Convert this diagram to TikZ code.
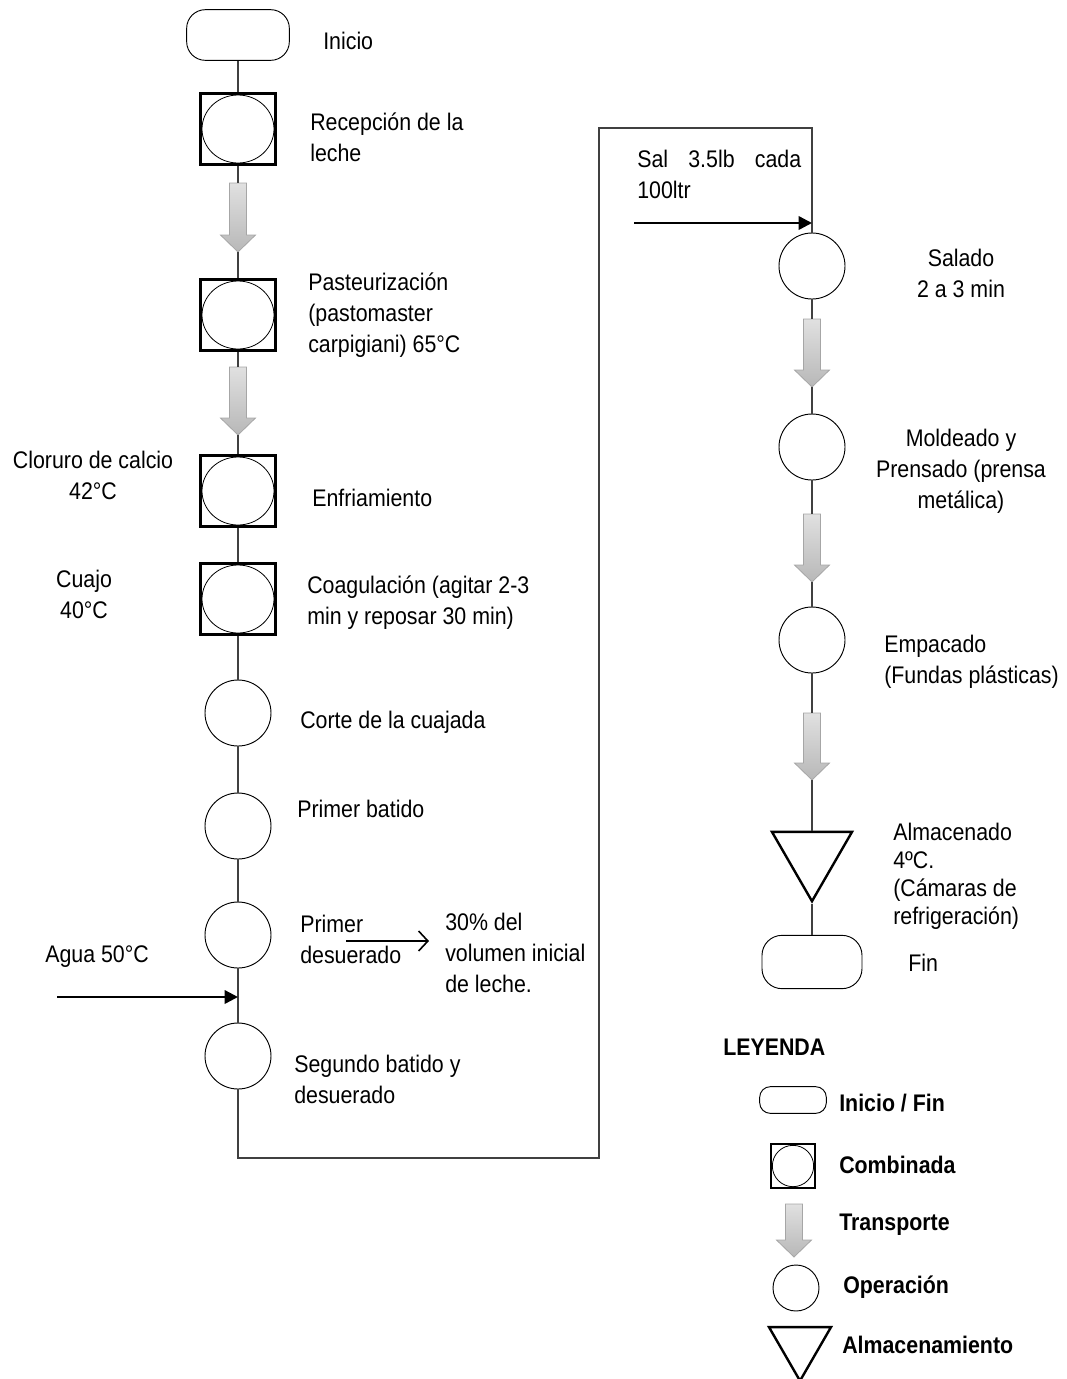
\documentclass[tikz,border=0pt]{standalone}
\usepackage{fontspec}
\setmainfont{Liberation Sans}[FakeStretch=0.89]
\usetikzlibrary{arrows.meta,shapes.geometric}

\tikzset{
  linea/.style={draw=black!75, line width=0.9pt},
  flecha/.style={draw=black, line width=1.8pt, -{Triangle[length=10pt,width=10pt]}},
  salida/.style={draw=black, line width=1pt, -{Straight Barb[length=7pt,width=15pt,line width=1.2pt]}},
  terminal/.style 2 args={draw=black, line width=0.7pt, fill=white, rounded corners=#2,
    minimum width=#1, inner sep=0},
  combinada/.style 2 args={draw=black, line width=2.2pt, fill=white, inner sep=0,
    minimum width=#1, minimum height=#2,
    path picture={\draw[line width=0.6pt] (path picture bounding box.center)
      ellipse [x radius=#1/2-1pt, y radius=#2/2-1pt];}},
  operacion/.style={draw=black, line width=0.7pt, fill=white, circle, inner sep=0,
    minimum size=#1},
  almacen/.style={draw=black, line width=1.8pt, fill=white, regular polygon,
    regular polygon sides=3, shape border rotate=180, inner sep=0, minimum size=#1},
  etiqueta/.style={inner sep=0, anchor=west, align=left},
  centrada/.style={inner sep=0, anchor=center, align=center},
  pics/transporte/.style={code={
    \path[top color=black!12, bottom color=black!28, draw=black!35, line width=0.6pt]
      (-8.5,0) -- (8.5,0) -- (8.5,#1-17) -- (17.5,#1-17) -- (0,#1)
      -- (-17.5,#1-17) -- (-8.5,#1-17) -- cycle;
    \coordinate (-top) at (0,0);
    \coordinate (-tip) at (0,#1);
  }}
}

\begin{document}
\begin{tikzpicture}[x=0.75pt, y=-0.75pt, font=\fontsize{18pt}{23.25pt}\selectfont]
  \useasboundingbox (0,0) rectangle (1067,1379);

  % columna izquierda
  \node[terminal={77pt}{14pt}, minimum height=38pt] (ini) at (238,35) {};
  \node[etiqueta] (tini) at (323,41) {Inicio};
  \node[combinada={56pt}{53pt}] (rec) at (238,129) {};
  \node[etiqueta] (trec) at (310,137) {Recepción de la\\leche};
  \pic (t1) at (238,183) {transporte=69};
  \node[combinada={56pt}{53pt}] (pas) at (238,315) {};
  \node[etiqueta] (tpas) at (308,315) {Pasteurización\\(pastomaster\\carpigiani) 65°C};
  \pic (t2) at (238,367) {transporte=68};
  \node[combinada={56pt}{53pt}] (enf) at (238,491) {};
  \node[etiqueta] (tenf) at (312,498) {Enfriamiento};
  \node[centrada] (tclo) at (93,475) {Cloruro de calcio\\42°C};
  \node[combinada={56pt}{53pt}] (coa) at (238,599) {};
  \node[etiqueta] (tcoa) at (307,603) {Coagulación (agitar 2-3\\min y reposar 30 min)};
  \node[centrada] (tcua) at (84,594) {Cuajo\\40°C};
  \node[operacion=49.5pt] (cor) at (238,713) {};
  \node[etiqueta] (tcor) at (300,722) {Corte de la cuajada};
  \node[operacion=49.5pt] (bat) at (238,826) {};
  \node[etiqueta] (tbat) at (297,809) {Primer batido};
  \node[operacion=49.5pt] (des) at (238,935) {};
  \node[etiqueta] (tdes) at (300,939) {Primer\\desuerado};
  \coordinate (sd0) at (346,941);
  \coordinate (sd1) at (429,941);
  \node[etiqueta] (tsue) at (445,953) {30\% del\\volumen inicial\\de leche.};
  \node[etiqueta] (tagu) at (45,957) {Agua 50°C};
  \coordinate (ag0) at (57,997);
  \coordinate (ag1) at (238,997);
  \node[operacion=49.5pt] (seg) at (238,1056) {};
  \node[etiqueta] (tseg) at (294,1079) {Segundo batido y\\desuerado};

  % retorno
  \coordinate (r1) at (599,1158);
  \coordinate (r2) at (599,128);

  % columna derecha
  \node[etiqueta, text width=123pt] (tsal0) at (637,174) {Sal\hfill 3.5lb\hfill cada\\100ltr};
  \coordinate (sl0) at (634,223);
  \coordinate (sl1) at (812,223);
  \node[operacion=49.5pt] (sal) at (812,266) {};
  \node[centrada] (tsal) at (961,273) {Salado\\2 a 3 min};
  \pic (t3) at (812,319) {transporte=68};
  \node[operacion=49.5pt] (mol) at (812,447) {};
  \node[centrada] (tmol) at (961,471) {Moldeado y\\Prensado (prensa\\metálica)};
  \pic (t4) at (812,514) {transporte=68};
  \node[operacion=49.5pt] (emp) at (812,640) {};
  \node[etiqueta] (temp) at (884,662) {Empacado\\(Fundas plásticas)};
  \pic (t5) at (812,713) {transporte=67};
  \node[almacen=69.3pt] (alm) at (812,855) {};
  \node[etiqueta, font=\fontsize{18pt}{21pt}\selectfont] (talm) at (893,876)
    {Almacenado\\4ºC.\\(Cámaras de\\refrigeración)};
  \node[terminal={75pt}{15pt}, minimum height=40pt] (fin) at (812,962) {};
  \node[etiqueta] (tfin) at (908,963) {Fin};

  % conexiones
  \draw[linea] (ini) -- (rec);
  \draw[linea] (rec) -- (t1-top);
  \draw[linea] (t1-tip) -- (pas);
  \draw[linea] (pas) -- (t2-top);
  \draw[linea] (t2-tip) -- (enf);
  \draw[linea] (enf) -- (coa);
  \draw[linea] (coa) -- (cor);
  \draw[linea] (cor) -- (bat);
  \draw[linea] (bat) -- (des);
  \draw[linea] (des) -- (seg);
  \draw[linea] (seg) |- (r1) -- (r2) -| (sal);
  \draw[linea] (sal) -- (t3-top);
  \draw[linea] (t3-tip) -- (mol);
  \draw[linea] (mol) -- (t4-top);
  \draw[linea] (t4-tip) -- (emp);
  \draw[linea] (emp) -- (t5-top);
  \draw[linea] (t5-tip) -- (alm);
  \draw[linea] (alm) -- (fin);
  \draw[flecha] (ag0) -- (ag1);
  \draw[flecha] (sl0) -- (sl1);
  \draw[salida] (sd0) -- (sd1);

  % leyenda
  \node[etiqueta, font=\fontsize{18pt}{23.25pt}\selectfont\bfseries] (tley) at (723,1047) {LEYENDA};
  \node[terminal={50pt}{8pt}, minimum height=20pt] (lter) at (793,1100) {};
  \node[etiqueta, font=\fontsize{18pt}{23.25pt}\selectfont\bfseries] (tlter) at (839,1103) {Inicio / Fin};
  \node[combinada={33pt}{33pt}] (lcom) at (793,1166) {};
  \node[etiqueta, font=\fontsize{18pt}{23.25pt}\selectfont\bfseries] (tlcom) at (839,1165) {Combinada};
  \pic (ltra) at (794,1204) {transporte=53};
  \node[etiqueta, font=\fontsize{18pt}{23.25pt}\selectfont\bfseries] (tltra) at (839,1225) {Transporte};
  \node[operacion=34.5pt] (lope) at (796,1288) {};
  \node[etiqueta, font=\fontsize{18pt}{23.25pt}\selectfont\bfseries] (tlope) at (843,1287) {Operación};
  \node[almacen=53.7pt] (lalm) at (800,1345) {};
  \node[etiqueta, font=\fontsize{18pt}{23.25pt}\selectfont\bfseries] (tlalm) at (842,1345) {Almacenamiento};
\end{tikzpicture}
\end{document}
